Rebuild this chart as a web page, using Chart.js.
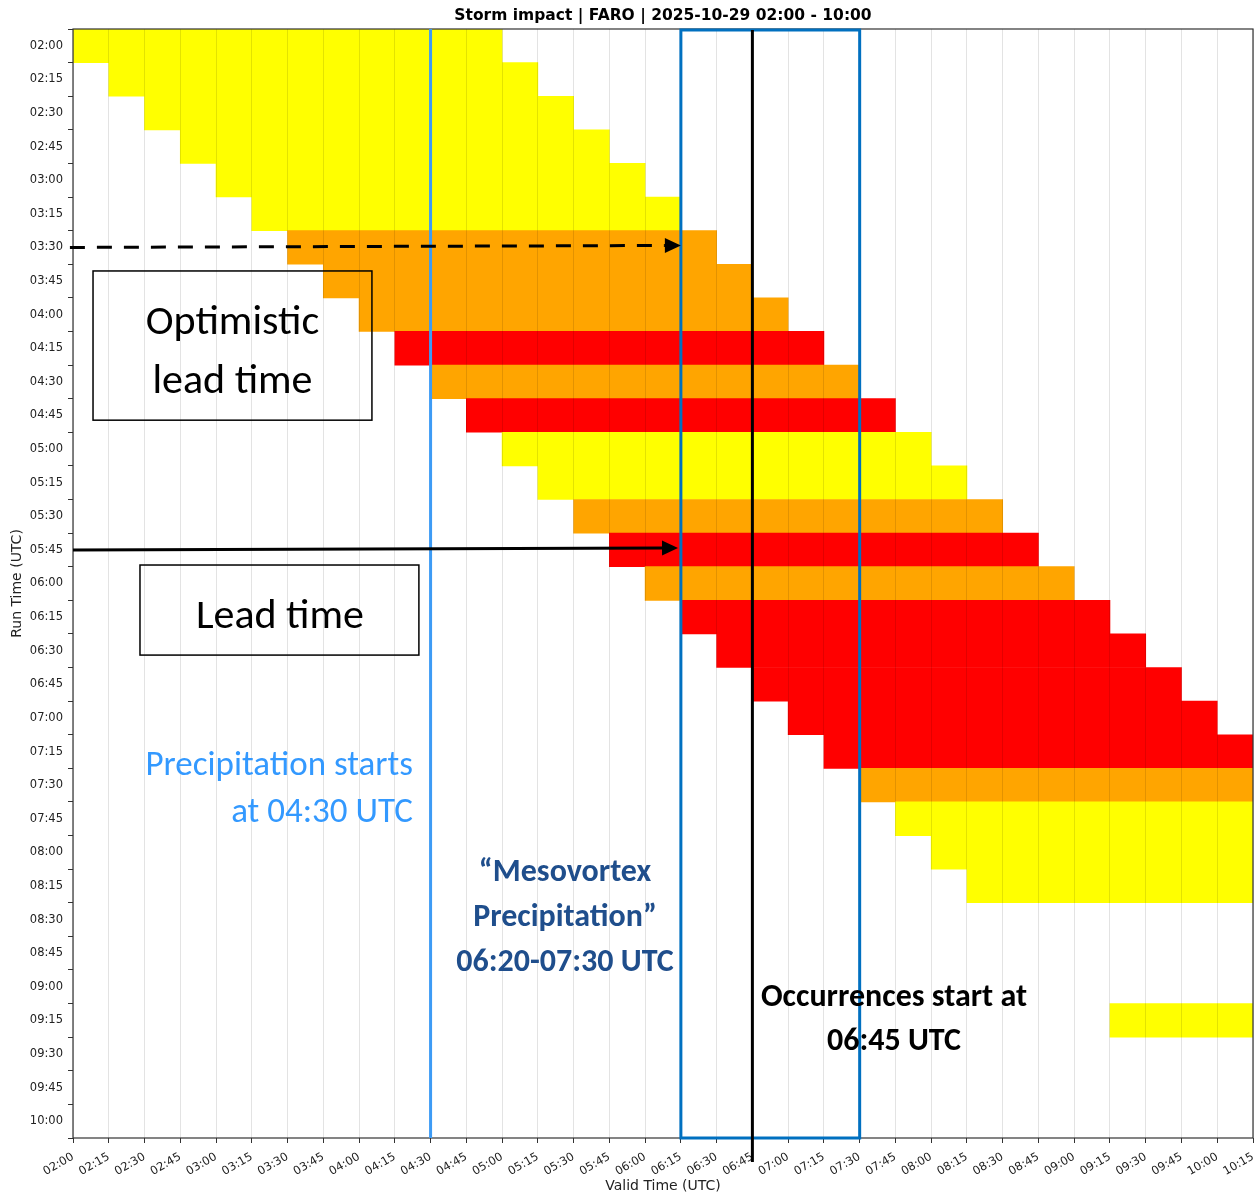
<!DOCTYPE html>
<html>
<head>
<meta charset="utf-8">
<title>Storm impact | FARO</title>
<script src="https://cdn.jsdelivr.net/npm/chart.js@4/dist/chart.umd.min.js"></script>
<style>
  html, body { margin: 0; padding: 0; background: #fff; }
  canvas { display: block; }
</style>
</head>
<body>
<canvas id="c" width="1255" height="1198"></canvas>
<script>
// Forecast runs (y axis), one row per run
const runTimes = ['02:00','02:15','02:30','02:45','03:00','03:15','03:30','03:45','04:00','04:15','04:30',
  '04:45','05:00','05:15','05:30','05:45','06:00','06:15','06:30','06:45','07:00','07:15','07:30',
  '07:45','08:00','08:15','08:30','08:45','09:00','09:15','09:30','09:45','10:00'];

// Impact level forecast by each run: 0 none, 1 yellow, 2 orange, 3 red
const impactLevel = [1,1,1,1,1,1,2,2,2,3,2,3,1,1,2,3,2,3,3,3,3,3,2,1,1,1,0,0,0,1,0,0,0];

// Valid-time window of each run's warning (start = run time)
const validEnd = ['05:00','05:15','05:30','05:45','06:00','06:15','06:30','06:45','07:00','07:15','07:30',
  '07:45','08:00','08:15','08:30','08:45','09:00','09:15','09:30','09:45','10:00','10:15','10:15',
  '10:15','10:15','10:15',null,null,null,'10:15',null,null,null];

// Valid-time tick labels (x axis)
const validTimes = ['02:00','02:15','02:30','02:45','03:00','03:15','03:30','03:45','04:00','04:15','04:30',
  '04:45','05:00','05:15','05:30','05:45','06:00','06:15','06:30','06:45','07:00','07:15','07:30',
  '07:45','08:00','08:15','08:30','08:45','09:00','09:15','09:30','09:45','10:00','10:15'];

const levelColors = ['rgba(0,0,0,0)', '#ffff00', '#ffa500', '#ff0000'];

// minutes since 02:00
const toMin = t => { const [h, m] = t.split(':').map(Number); return (h - 2) * 60 + m; };

const bars = runTimes.map((t, i) =>
  impactLevel[i] > 0 && validEnd[i] ? [toMin(t), toMin(validEnd[i])] : null);

const annotationFont = 'Carlito, Lato, "Open Sans", sans-serif';

// Hand-drawn notes over the chart: x in minutes since 02:00, y in run index
const overlay = {
  id: 'overlay',
  afterDraw(chart) {
    const { ctx, chartArea: a, scales: { x, y } } = chart;
    const X = m => x.getPixelForValue(m);
    const Y = i => y.getPixelForValue(i);
    ctx.save();

    // plot frame
    ctx.strokeStyle = '#333';
    ctx.lineWidth = 1.2;
    ctx.strokeRect(a.left, a.top, a.right - a.left, a.bottom - a.top);

    // title
    ctx.fillStyle = '#000';
    ctx.font = 'bold 15.5px "DejaVu Sans"';
    ctx.textAlign = 'center';
    ctx.textBaseline = 'middle';
    ctx.fillText('Storm impact | FARO | 2025-10-29 02:00 - 10:00', (a.left + a.right) / 2, 16);

    // precipitation start line
    ctx.strokeStyle = '#3d9bf5';
    ctx.lineWidth = 3;
    ctx.beginPath();
    ctx.moveTo(X(toMin('04:30')), a.top);
    ctx.lineTo(X(toMin('04:30')), a.bottom);
    ctx.stroke();

    // mesovortex precipitation window
    ctx.strokeStyle = '#0070c0';
    ctx.lineWidth = 3;
    ctx.strokeRect(X(toMin('06:15')), a.top + 1, X(toMin('07:30')) - X(toMin('06:15')), a.bottom - a.top - 1);

    // occurrences start line
    ctx.strokeStyle = '#000';
    ctx.lineWidth = 3;
    ctx.beginPath();
    ctx.moveTo(X(toMin('06:45')), a.top + 1);
    ctx.lineTo(X(toMin('06:45')), a.bottom + 24);
    ctx.stroke();

    // arrows
    const arrow = (x0, y0, x1, y1, dash) => {
      const ang = Math.atan2(y1 - y0, x1 - x0);
      const hl = 16, hw = 7.5;
      const bx = x1 - hl * Math.cos(ang), by = y1 - hl * Math.sin(ang);
      ctx.strokeStyle = '#000';
      ctx.fillStyle = '#000';
      ctx.lineWidth = 3;
      ctx.setLineDash(dash);
      ctx.beginPath();
      ctx.moveTo(x0, y0);
      ctx.lineTo(bx, by);
      ctx.stroke();
      ctx.setLineDash([]);
      ctx.beginPath();
      ctx.moveTo(x1, y1);
      ctx.lineTo(bx - hw * Math.sin(ang), by + hw * Math.cos(ang));
      ctx.lineTo(bx + hw * Math.sin(ang), by - hw * Math.cos(ang));
      ctx.closePath();
      ctx.fill();
    };
    arrow(X(-1.3), Y(6), X(toMin('06:15')), Y(5.94), [15, 12]);
    arrow(X(0), Y(15), X(253.8), Y(14.94), []);

    // boxed labels
    const box = (x0, y0, x1, y1) => {
      ctx.strokeStyle = '#000';
      ctx.lineWidth = 1.5;
      ctx.strokeRect(X(x0), Y(y0), X(x1) - X(x0), Y(y1) - Y(y0));
    };
    const text = (str, xm, yi, font, color, align) => {
      ctx.font = font;
      ctx.fillStyle = color;
      ctx.textAlign = align;
      ctx.textBaseline = 'middle';
      ctx.fillText(str, X(xm), Y(yi));
    };
    box(8.4, 6.70, 125.4, 11.14);
    text('Optimistic', 66.9, 8.26, '42px ' + annotationFont, '#000', 'center');
    text('lead time', 66.9, 10.02, '42px ' + annotationFont, '#000', 'center');

    box(28.1, 15.45, 145.1, 18.13);
    text('Lead time', 86.8, 17.0, '42px ' + annotationFont, '#000', 'center');

    text('Precipitation starts', 142.6, 21.45, '35px ' + annotationFont, '#3399ff', 'right');
    text('at 04:30 UTC', 142.6, 22.85, '35px ' + annotationFont, '#3399ff', 'right');

    const mesoFont = 'bold 32px ' + annotationFont;
    text('\u201cMesovortex', 206.4, 24.6, mesoFont, '#1f4e8c', 'center');
    text('Precipitation\u201d', 206.4, 25.94, mesoFont, '#1f4e8c', 'center');
    text('06:20-07:30 UTC', 206.4, 27.28, mesoFont, '#1f4e8c', 'center');

    const occFont = 'bold 32px ' + annotationFont;
    text('Occurrences start at', 344.4, 28.32, occFont, '#000', 'center');
    text('06:45 UTC', 344.4, 29.63, occFont, '#000', 'center');

    ctx.restore();
  }
};

new Chart(document.getElementById('c'), {
  type: 'bar',
  data: {
    labels: runTimes,
    datasets: [{
      data: bars,
      backgroundColor: impactLevel.map(l => levelColors[l]),
      borderWidth: 0,
      barPercentage: 1,
      categoryPercentage: 1
    }]
  },
  options: {
    indexAxis: 'y',
    responsive: false,
    animation: false,
    devicePixelRatio: 1,
    layout: { padding: { top: 29, right: 2, left: 0, bottom: 0 } },
    plugins: { legend: { display: false }, tooltip: { enabled: false }, title: { display: false } },
    font: { family: '"DejaVu Sans"' },
    scales: {
      x: {
        type: 'linear',
        min: 0,
        max: toMin('10:15'),
        border: { display: false },
        grid: { color: 'rgba(0,0,0,0.11)', tickColor: '#333', tickLength: 5, z: 1 },
        ticks: {
          stepSize: 15,
          autoSkip: false,
          minRotation: 30,
          maxRotation: 30,
          padding: 7,
          color: '#222',
          font: { family: '"DejaVu Sans"', size: 11.5 },
          callback: (v) => validTimes[Math.round(v / 15)]
        },
        title: {
          display: true,
          text: 'Valid Time (UTC)',
          color: '#222',
          font: { family: '"DejaVu Sans"', size: 14 },
          padding: { top: 0, bottom: 3 }
        },
        afterFit: (s) => { s.height = 60; s.paddingLeft = 0; s.paddingRight = 0; }
      },
      y: {
        type: 'category',
        border: { display: false },
        grid: { drawOnChartArea: false, tickColor: '#333', tickLength: 5 },
        ticks: {
          autoSkip: false,
          padding: 5,
          color: '#222',
          font: { family: '"DejaVu Sans"', size: 11.5 }
        },
        title: {
          display: true,
          text: 'Run Time (UTC)',
          color: '#222',
          font: { family: '"DejaVu Sans"', size: 14 },
          padding: { top: 9, bottom: 0 }
        },
        afterFit: (s) => { s.width = 73; s.paddingTop = 0; s.paddingBottom = 0; }
      }
    }
  },
  plugins: [overlay]
});
</script>
</body>
</html>
